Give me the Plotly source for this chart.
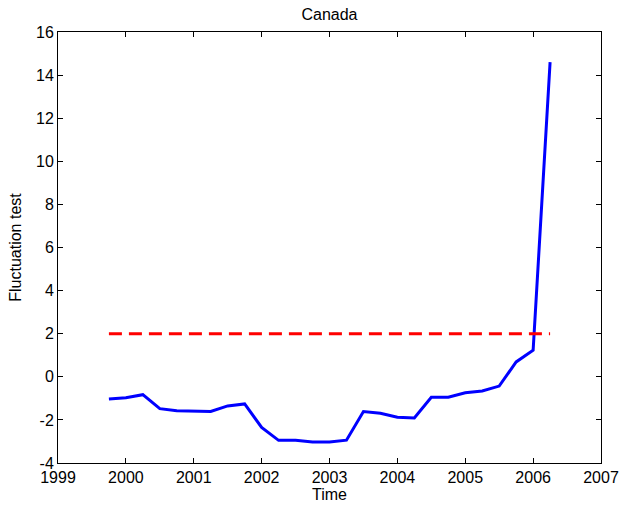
import plotly.graph_objects as go

time = [1999.75, 2000.0, 2000.25, 2000.5, 2000.75, 2001.0, 2001.25, 2001.5, 2001.75,
        2002.0, 2002.25, 2002.5, 2002.75, 2003.0, 2003.25, 2003.5, 2003.75, 2004.0,
        2004.25, 2004.5, 2004.75, 2005.0, 2005.25, 2005.5, 2005.75, 2006.0, 2006.25]
fluct = [-1.03, -0.97, -0.83, -1.48, -1.58, -1.58, -1.61, -1.35, -1.26,
         -2.35, -2.95, -2.95, -3.03, -3.03, -2.94, -1.61, -1.69, -1.88,
         -1.91, -0.95, -0.95, -0.74, -0.66, -0.43, 0.69, 1.23, 14.6]
crit_x = [1999.75, 2006.25]
crit_y = [2.0, 2.0]
x_ticks = [1999, 2000, 2001, 2002, 2003, 2004, 2005, 2006, 2007]
y_ticks = [-4, -2, 0, 2, 4, 6, 8, 10, 12, 14, 16]

FONT = "Liberation Sans, Arial, sans-serif"

fig = go.Figure()
fig.add_trace(go.Scatter(x=time, y=fluct, mode="lines",
                         line=dict(color="#0000ff", width=3)))
fig.add_trace(go.Scatter(x=crit_x, y=crit_y, mode="lines",
                         line=dict(color="#ff0000", width=3, dash="13px,7px")))

axis_common = dict(showgrid=False, zeroline=False, showline=True, linecolor="black",
                   linewidth=1, mirror="ticks", ticks="inside", ticklen=5,
                   tickcolor="black", automargin=False,
                   tickfont=dict(family=FONT, size=16, color="black"))
W, H = 621, 510
fig.update_layout(
    width=W, height=H,
    margin=dict(l=58, r=20, t=32, b=47),
    paper_bgcolor="white", plot_bgcolor="white",
    showlegend=False,
    title=dict(text="Canada", xref="paper", x=0.5, xanchor="center",
               y=1 - 14 / H, yanchor="middle",
               font=dict(family=FONT, size=16, color="black")),
    xaxis=dict(range=[1999, 2007], tickvals=x_ticks, ticktext=[str(v) for v in x_ticks],
               title=dict(text="Time", standoff=0,
                          font=dict(family=FONT, size=16, color="black")),
               **axis_common),
    yaxis=dict(range=[-4, 16], tickvals=y_ticks, ticktext=[str(v) for v in y_ticks],
               title=dict(text="Fluctuation test", standoff=10,
                          font=dict(family=FONT, size=16, color="black")),
               **axis_common),
)
fig.write_html("out.html", config={"displayModeBar": False},
               post_script="document.body.style.margin='0';document.body.style.overflow='hidden';")
